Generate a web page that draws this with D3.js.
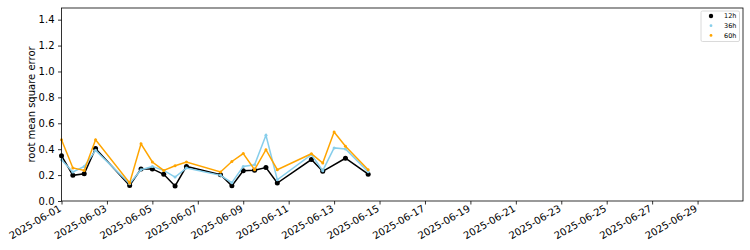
<!DOCTYPE html>
<html>
<head>
	<meta charset="utf-8">
	<title>rmse</title>
	<script src="https://cdn.jsdelivr.net/npm/d3@7"></script>
	<style>
		body { margin: 0; background: #fff; }
		text { font-family: "DejaVu Sans", sans-serif; }
	</style>
</head>
<body>
<script>
	// data
	var times12 = ['2025-06-01T00','2025-06-01T12','2025-06-02T00','2025-06-02T12','2025-06-04T00','2025-06-04T12',
		'2025-06-05T00','2025-06-05T12','2025-06-06T00','2025-06-06T12','2025-06-08T00','2025-06-08T12',
		'2025-06-09T00','2025-06-09T12','2025-06-10T00','2025-06-10T12','2025-06-12T00','2025-06-12T12',
		'2025-06-13T12','2025-06-14T12'];
	var rmse12 = [0.35, 0.198, 0.21, 0.405, 0.12, 0.248, 0.248, 0.206, 0.116, 0.267, 0.203, 0.117,
		0.234, 0.238, 0.258, 0.139, 0.32, 0.229, 0.33, 0.207];

	var timesLong = ['2025-06-01T00','2025-06-01T12','2025-06-02T00','2025-06-02T12','2025-06-04T00','2025-06-04T12',
		'2025-06-05T00','2025-06-05T12','2025-06-06T00','2025-06-06T12','2025-06-08T00','2025-06-08T12',
		'2025-06-09T00','2025-06-09T12','2025-06-10T00','2025-06-10T12','2025-06-12T00','2025-06-12T12',
		'2025-06-13T00','2025-06-13T12','2025-06-14T12'];
	var rmse36 = [0.319, 0.224, 0.267, 0.391, 0.134, 0.242, 0.267, 0.236, 0.185, 0.255, 0.198, 0.141,
		0.267, 0.28, 0.507, 0.164, 0.358, 0.234, 0.41, 0.401, 0.225];
	var rmse60 = [0.473, 0.255, 0.236, 0.473, 0.139, 0.442, 0.301, 0.236, 0.272, 0.301, 0.224, 0.305,
		0.366, 0.242, 0.396, 0.242, 0.365, 0.293, 0.533, 0.422, 0.242];

	var seriesNames = ['12h', '36h', '60h'];
	var seriesColors = ['black', 'skyblue', 'orange'];
	var yTicks = [0.0, 0.2, 0.4, 0.6, 0.8, 1.0, 1.2, 1.4];

	var w = 750, h = 250;
	var margin = {left: 61.5, right: 7, top: 8, bottom: 49};
	var svg = d3.select('body').append('svg').attr('width', w).attr('height', h);

	var parse = d3.utcParse('%Y-%m-%dT%H');
	function build(times, vals) {
		return times.map(function(t, i) { return {t: parse(t), v: vals[i]}; });
	}
	var series = [build(times12, rmse12), build(timesLong, rmse36), build(timesLong, rmse60)];

	var x = d3.scaleUtc().domain([new Date(Date.UTC(2025, 5, 1)), new Date(Date.UTC(2025, 6, 1))])
		.range([margin.left, w - margin.right]);
	var y = d3.scaleLinear().domain([0, 1.49]).range([h - margin.bottom, margin.top]);

	// axes (ticks every other day, 06-01 .. 06-29)
	var xTicks = d3.utcDay.every(2).range(x.domain()[0], x.domain()[1]).filter(function(d) { return d.getUTCMonth() == 5; });
	var xAxis = d3.axisBottom(x).tickValues(xTicks).tickFormat(d3.utcFormat('%Y-%m-%d')).tickSizeOuter(0).tickSize(3.5);
	var gx = svg.append('g').attr('transform', 'translate(0,' + (h - margin.bottom) + ')').call(xAxis);
	gx.select('.domain').remove();
	gx.selectAll('.tick line').attr('stroke', '#000').attr('stroke-width', 0.8);
	gx.selectAll('.tick text').attr('font-size', 10).attr('fill', '#000')
		.attr('text-anchor', 'end').attr('dy', 0).attr('y', 0)
		.attr('transform', 'translate(0,9.5) rotate(-30)');

	var yAxis = d3.axisLeft(y).tickValues(yTicks).tickFormat(d3.format('.1f')).tickSizeOuter(0).tickSize(3.5).tickPadding(3.5);
	var gy = svg.append('g').attr('transform', 'translate(' + margin.left + ',0)').call(yAxis);
	gy.select('.domain').remove();
	gy.selectAll('.tick line').attr('stroke', '#000').attr('stroke-width', 0.8);
	gy.selectAll('.tick text').attr('font-size', 10).attr('fill', '#000');

	svg.append('text').attr('transform', 'translate(35,' + ((margin.top + h - margin.bottom) / 2) + ') rotate(-90)')
		.attr('text-anchor', 'middle').attr('font-size', 10).text('root mean square error');

	// lines
	var line = d3.line().x(function(d) { return x(d.t); }).y(function(d) { return y(d.v); });
	series.forEach(function(s, i) {
		svg.append('path').datum(s).attr('fill', 'none').attr('stroke', seriesColors[i])
			.attr('stroke-width', 1.5).attr('d', line);
		svg.append('g').selectAll('circle').data(s).enter().append('circle')
			.attr('cx', function(d) { return x(d.t); })
			.attr('cy', function(d) { return y(d.v); })
			.attr('r', i == 0 ? 2.5 : 1.5)
			.attr('fill', seriesColors[i]);
	});

	// frame
	svg.append('rect').attr('x', margin.left).attr('y', margin.top)
		.attr('width', w - margin.right - margin.left).attr('height', h - margin.bottom - margin.top)
		.attr('fill', 'none').attr('stroke', '#000').attr('stroke-width', 0.8);

	// legend
	var lg = svg.append('g').attr('transform', 'translate(701,11)');
	lg.append('rect').attr('width', 38.5).attr('height', 30.5).attr('rx', 1.5)
		.attr('fill', '#fff').attr('stroke', '#d0d0d0').attr('stroke-width', 0.8);
	seriesNames.forEach(function(n, i) {
		lg.append('circle').attr('cx', 10).attr('cy', 5 + i * 9.7).attr('r', i == 0 ? 2.2 : 1.4).attr('fill', seriesColors[i]);
		lg.append('text').attr('x', 23).attr('y', 7.3 + i * 9.7).attr('font-size', 6.5).text(n);
	});
</script>
</body>
</html>
